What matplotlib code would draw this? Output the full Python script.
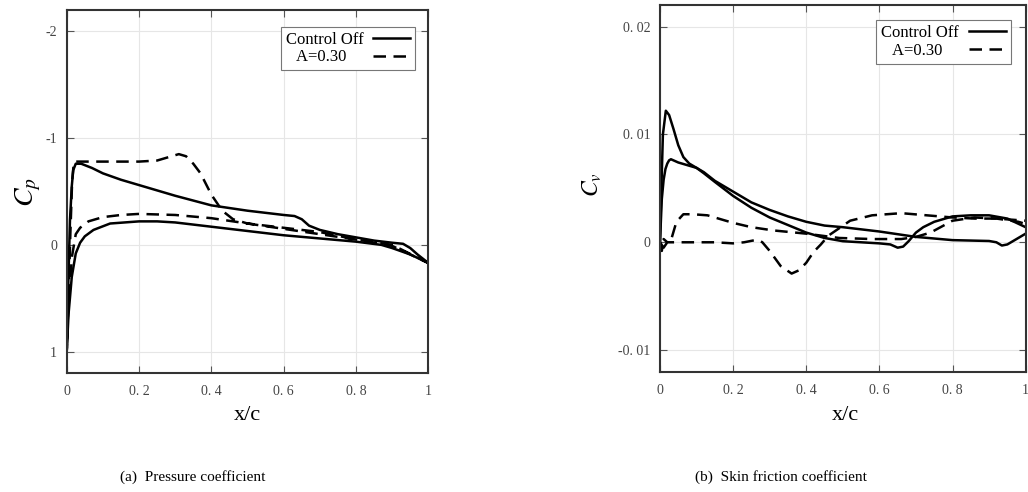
import matplotlib
matplotlib.use('Agg')
import matplotlib.pyplot as plt

plt.rcParams['font.family'] = ['Liberation Serif', 'DejaVu Serif']
plt.rcParams['mathtext.fontset'] = 'stix'

# Cp, control off (upper surface LE->TE, lower surface LE->TE)
cp_off_up_x = [0, 0.004, 0.009, 0.014, 0.018, 0.025, 0.04, 0.07, 0.1, 0.15, 0.2, 0.3, 0.4, 0.5,
               0.6, 0.63, 0.65, 0.67, 0.7, 0.75, 0.8, 0.85, 0.9, 0.93, 0.95, 0.97, 1.0]
cp_off_up = [1.0, 0.4, -0.23, -0.55, -0.7, -0.76, -0.76, -0.72, -0.67, -0.61, -0.56, -0.46, -0.37, -0.32,
             -0.28, -0.27, -0.24, -0.18, -0.14, -0.10, -0.07, -0.04, -0.02, -0.01, 0.03, 0.09, 0.17]
cp_off_lo_x = [0, 0.005, 0.014, 0.025, 0.037, 0.05, 0.074, 0.12, 0.2, 0.25, 0.3, 0.4, 0.5, 0.6,
               0.7, 0.8, 0.87, 0.9, 0.95, 1.0]
cp_off_lo = [1.0, 0.65, 0.3, 0.08, -0.02, -0.08, -0.14, -0.2, -0.22, -0.22, -0.21, -0.17, -0.13, -0.09,
             -0.06, -0.03, 0.0, 0.03, 0.09, 0.17]

# Cp, A=0.30
cp_a_up_x = [0, 0.005, 0.01, 0.015, 0.02, 0.03, 0.05, 0.1, 0.15, 0.2, 0.25, 0.28, 0.31, 0.33, 0.35,
             0.37, 0.4, 0.43, 0.46, 0.5, 0.6, 0.7, 0.8, 0.9, 1.0]
cp_a_up = [1.0, 0.5, -0.1, -0.6, -0.78, -0.78, -0.78, -0.78, -0.78, -0.78, -0.79, -0.82, -0.85, -0.83, -0.76,
           -0.67, -0.47, -0.32, -0.24, -0.2, -0.16, -0.12, -0.05, 0.0, 0.17]
cp_a_lo_x = [0, 0.005, 0.015, 0.025, 0.037, 0.06, 0.1, 0.15, 0.2, 0.3, 0.4, 0.5, 0.6, 0.7, 0.8, 0.9, 1.0]
cp_a_lo = [1.0, 0.5, 0.1, -0.1, -0.16, -0.22, -0.26, -0.28, -0.29, -0.28, -0.25, -0.2, -0.15, -0.1,
           -0.05, 0.01, 0.17]

# Cf, control off
cf_off_1_x = [0, 0.003, 0.008, 0.016, 0.025, 0.037, 0.05, 0.064, 0.08, 0.1, 0.12, 0.15, 0.2, 0.25, 0.3,
              0.35, 0.4, 0.45, 0.5, 0.55, 0.6, 0.63, 0.65, 0.665, 0.68, 0.7, 0.72, 0.75, 0.8, 0.85,
              0.9, 0.95, 1.0]
cf_off_1 = [0, 0.004, 0.010, 0.0122, 0.0118, 0.0105, 0.0090, 0.0079, 0.0073, 0.0069, 0.0064, 0.0056,
            0.0043, 0.0032, 0.0023, 0.0016, 0.0009, 0.0004, 0.0001, 0.0, -0.0001, -0.0002, -0.0005,
            -0.0004, 0.0001, 0.0009, 0.0014, 0.0019, 0.0024, 0.0025, 0.0025, 0.0022, 0.0014]
cf_off_2_x = [0, 0.005, 0.01, 0.015, 0.02, 0.025, 0.03, 0.05, 0.08, 0.1, 0.12, 0.15, 0.2, 0.25, 0.3,
              0.35, 0.4, 0.45, 0.5, 0.55, 0.6, 0.7, 0.8, 0.9, 0.92, 0.935, 0.95, 0.97, 1.0]
cf_off_2 = [0, 0.004, 0.0058, 0.0068, 0.0073, 0.0076, 0.0077, 0.0074, 0.0071, 0.0069, 0.0065, 0.0057,
            0.0047, 0.0037, 0.0030, 0.0024, 0.0019, 0.00155, 0.0014, 0.0012, 0.0010, 0.0005, 0.0002,
            0.00012, 0.0, -0.0003, -0.0002, 0.0002, 0.0008]

# Cf, A=0.30
cf_a_1_x = [0.0, 0.01, 0.02, 0.032, 0.045, 0.064, 0.09, 0.13, 0.2, 0.25, 0.31, 0.4, 0.49, 0.58, 0.66,
            0.7, 0.74, 0.8, 0.86, 0.92, 0.98, 1.0]
cf_a_1 = [0, -0.0005, 0.0, 0.0004, 0.0019, 0.0026, 0.0026, 0.0025, 0.0018, 0.0014, 0.0011, 0.0008,
          0.0004, 0.0003, 0.0003, 0.0005, 0.0009, 0.0020, 0.0023, 0.0022, 0.0019, 0.0017]
cf_a_2_x = [0, 0.005, 0.01, 0.02, 0.05, 0.1, 0.15, 0.2, 0.23, 0.26, 0.27, 0.28, 0.3, 0.33, 0.36, 0.38,
            0.4, 0.42, 0.44, 0.46, 0.49, 0.52, 0.58, 0.66, 0.73, 0.8, 0.86, 0.92, 1.0]
cf_a_2 = [0, -0.0008, 0.0003, 0.0, 0.0, 0.0, 0.0, -0.0001, 0.0, 0.0002, 0.0002, 0.0, -0.0008, -0.0022,
          -0.0029, -0.0026, -0.0019, -0.0009, -0.0002, 0.0006, 0.0013, 0.0020, 0.0025, 0.0027, 0.0025,
          0.0023, 0.0022, 0.0022, 0.0020]

x_ticks = [0, 0.2, 0.4, 0.6, 0.8, 1]
x_ticklabels = ['0', '0. 2', '0. 4', '0. 6', '0. 8', '1']
cp_ticks = [-2, -1, 0, 1]
cp_ticklabels = ['-2', '-1', '0', '1']
cf_ticks = [-0.01, 0, 0.01, 0.02]
cf_ticklabels = ['-0. 01', '0', '0. 01', '0. 02']

fig = plt.figure(figsize=(10.28, 4.92), dpi=100)
ax1 = fig.add_axes([0.0649, 0.2419, 0.3518, 0.7378])
ax2 = fig.add_axes([0.642, 0.2445, 0.3557, 0.7453])

lw = 1.8
dash = (0, (5, 3))

ax1.plot(cp_off_up_x[::-1] + cp_off_lo_x, cp_off_up[::-1] + cp_off_lo, color='black', lw=lw,
         label='Control Off')
ax1.plot(cp_a_up_x[::-1] + cp_a_lo_x, cp_a_up[::-1] + cp_a_lo, color='black', lw=lw, linestyle=dash,
         label='A=0.30    ')
ax1.set_xlim(0, 1)
ax1.set_ylim(1.2, -2.2)
ax1.set_yticks(cp_ticks)
ax1.set_yticklabels(cp_ticklabels)

ax2.plot(cf_off_1_x, cf_off_1, color='black', lw=lw, label='Control Off')
ax2.plot(cf_off_2_x, cf_off_2, color='black', lw=lw)
ax2.plot(cf_a_1_x, cf_a_1, color='black', lw=lw, linestyle=dash, label='A=0.30    ')
ax2.plot(cf_a_2_x, cf_a_2, color='black', lw=lw, linestyle=dash)
ax2.set_xlim(0, 1)
ax2.set_ylim(-0.012, 0.022)
ax2.set_yticks(cf_ticks)
ax2.set_yticklabels(cf_ticklabels)

for ax, anchor in [(ax1, (0.963, 0.954)), (ax2, (0.959, 0.959))]:
    ax.set_xticks(x_ticks)
    ax.set_xticklabels(x_ticklabels)
    ax.grid(True, color='#e6e6e6', lw=0.8)
    ax.tick_params(direction='in', top=True, right=True, length=5, width=0.8, color='#555555',
                   labelsize=10, labelcolor='#444444')
    ax.tick_params(axis='y', pad=7)
    ax.tick_params(axis='x', pad=9)
    for s in ax.spines.values():
        s.set_linewidth(1.5)
        s.set_color('#333333')
    leg = ax.legend(loc='upper right', bbox_to_anchor=anchor, markerfirst=False, fancybox=False,
                    framealpha=1, edgecolor='#777777', fontsize=12, handlelength=2.2,
                    borderpad=0.3, labelspacing=0.1, handletextpad=0.6, borderaxespad=0)
    leg.get_frame().set_linewidth(0.8)

fig.text(0.028, 0.61, '$C_p$', fontsize=20, rotation=90, ha='center', va='center')
fig.text(0.576, 0.624, '$C_v$', fontsize=17, rotation=90, ha='center', va='center')
fig.text(0.241, 0.1565, 'x/c', fontsize=16, ha='center', va='center')
fig.text(0.822, 0.1565, 'x/c', fontsize=16, ha='center', va='center')
fig.text(0.187, 0.031, '(a)  Pressure coefficient', fontsize=11, ha='center', va='center')
fig.text(0.76, 0.031, '(b)  Skin friction coefficient', fontsize=11, ha='center', va='center')

fig.savefig('out.png', dpi=100)
